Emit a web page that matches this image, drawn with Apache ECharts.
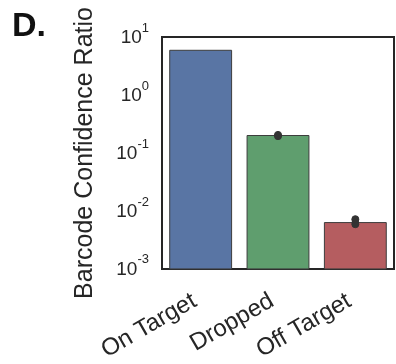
<!DOCTYPE html>
<html>
<head>
<meta charset="utf-8">
<script src="https://cdn.jsdelivr.net/npm/echarts@6/dist/echarts.min.js"></script>
<style>
  html, body { margin: 0; padding: 0; background: #fff; }
  #chart { width: 396px; height: 364px; }
</style>
</head>
<body>
<div id="chart"></div>
<script>
// Barcode confidence ratio per read class (log scale)
const categories = ['On Target', 'Dropped', 'Off Target'];
const ratios = [5.9, 0.2, 0.0063];
const errLow = [5.9, 0.195, 0.0059];
const errHigh = [5.9, 0.205, 0.0072];
const barColors = ['#5975a4', '#5f9e6e', '#b55d60'];
const showErr = [false, true, true];
const yMin = 0.001;
const yMax = 10;

const chart = echarts.init(document.getElementById('chart'));

chart.setOption({
  animation: false,
  backgroundColor: '#fff',
  graphic: [{
    type: 'text',
    left: 12,
    top: 10,
    style: { text: 'D.', fontFamily: 'Liberation Sans, Arial', fontWeight: 'bold', fontSize: 34, fill: '#111' }
  }],
  grid: {
    left: 162, right: 2, top: 37, bottom: 95,
    show: true, borderColor: '#262626', borderWidth: 2, backgroundColor: 'transparent'
  },
  xAxis: {
    type: 'category',
    data: categories,
    axisLine: { show: false },
    axisTick: { show: false },
    axisLabel: {
      rotate: 30, margin: 27, fontSize: 24, color: '#262626',
      padding: [0, 7, 0, 0],
      fontFamily: 'Liberation Sans, Arial'
    }
  },
  yAxis: {
    type: 'log',
    logBase: 10,
    min: yMin,
    max: yMax,
    name: 'Barcode Confidence Ratio',
    nameLocation: 'middle',
    nameGap: 64,
    nameTextStyle: { fontSize: 25, color: '#262626', fontFamily: 'Liberation Sans, Arial' },
    axisLine: { show: false },
    axisTick: { show: false },
    splitLine: { show: false },
    axisLabel: {
      margin: 13,
      padding: [0, 0, 5, 0],
      formatter: function (v) {
        const e = Math.round(Math.log10(v));
        return '{b|10}{s|' + e + '}';
      },
      rich: {
        b: { fontSize: 19, color: '#262626', fontFamily: 'Liberation Sans, Arial', verticalAlign: 'bottom', lineHeight: 26 },
        s: { fontSize: 13, color: '#262626', fontFamily: 'Liberation Sans, Arial', verticalAlign: 'top', lineHeight: 14 }
      }
    }
  },
  series: [
    {
      // bars drawn from the bottom of the log axis up to each ratio
      type: 'custom',
      data: ratios.map((v, i) => [i, v]),
      renderItem: function (params, api) {
        const i = api.value(0);
        const top = api.coord([i, api.value(1)]);
        const base = api.coord([i, yMin]);
        const w = api.size([1, 0])[0] * 0.8;
        return {
          type: 'rect',
          shape: { x: top[0] - w / 2, y: top[1], width: w, height: base[1] - top[1] },
          style: { fill: barColors[i], stroke: '#3d3d3d', lineWidth: 1 }
        };
      },
      z: 2
    },
    {
      type: 'custom',
      data: categories.map((c, i) => [i, errLow[i], errHigh[i]]).filter((d, i) => showErr[i]),
      renderItem: function (params, api) {
        const lo = api.coord([api.value(0), api.value(1)]);
        const hi = api.coord([api.value(0), api.value(2)]);
        const st = { fill: '#333', stroke: '#333' };
        return {
          type: 'group',
          children: [
            { type: 'line', shape: { x1: lo[0], y1: lo[1], x2: hi[0], y2: hi[1] }, style: { stroke: '#333', lineWidth: 7 } },
            { type: 'circle', shape: { cx: lo[0], cy: lo[1], r: 3.5 }, style: st },
            { type: 'circle', shape: { cx: hi[0], cy: hi[1], r: 3.5 }, style: st }
          ]
        };
      },
      z: 5
    }
  ]
});
</script>
</body>
</html>
